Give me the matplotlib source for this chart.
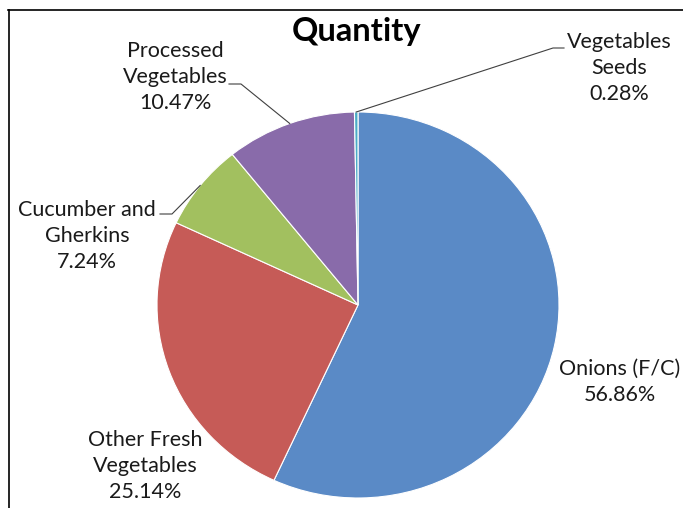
import matplotlib
matplotlib.use("Agg")
import matplotlib.pyplot as plt
import numpy as np

# data
categories = ["Onions (F/C)", "Other Fresh\nVegetables", "Cucumber and\nGherkins",
              "Processed\nVegetables", "Vegetables\nSeeds"]
shares = [56.86, 25.14, 7.24, 10.47, 0.28]
colors = ["#5A8AC6", "#C65B57", "#A2C05F", "#896BAA", "#4BACC6"]

W, H = 683, 508
CX, CY, RX, RY = 358, 305, 201, 193  # pie centre / radii in pixels

plt.rcParams["font.family"] = ["Lato", "DejaVu Sans"]
fig = plt.figure(figsize=(W / 100, H / 100), dpi=100)

# pie axes sized to the (slightly oval) pie of the reference
pax = fig.add_axes([(CX - RX) / W, (H - CY - RY) / H, 2 * RX / W, 2 * RY / H])
wedges, _ = pax.pie(shares, colors=colors, startangle=90, counterclock=False,
                    radius=1, wedgeprops=dict(edgecolor="white", linewidth=0.8))
pax.set_aspect("auto")
pax.set_xlim(-1, 1)
pax.set_ylim(-1, 1)
pax.axis("off")

# overlay in pixel coordinates for text, leaders and frame
ax = fig.add_axes([0, 0, 1, 1], zorder=3)
ax.set_xlim(0, W)
ax.set_ylim(H, 0)
ax.axis("off")
ax.patch.set_alpha(0)

ax.plot([8, W], [10, 10], color="black", lw=1.2)
ax.plot([9, 9], [10, H], color="black", lw=1.2)

ax.text(357, 32, "Quantity", ha="center", va="center", fontsize=23.5,
        fontweight="bold", color="black")


def edge_point(w):
    a = np.deg2rad((w.theta1 + w.theta2) / 2)
    return CX + RX * np.cos(a), CY - RY * np.sin(a)


# label centre, elbow start, elbow end (None = no leader)
label_pos = [
    ((620, 382), None),
    ((145, 466), None),
    ((87, 236), ((160, 214), (172, 214))),
    ((175, 77), ((229, 84), (241, 84))),
    ((619, 68), ((564, 48), (553, 48))),
]

for name, val, w, (pos, elbow) in zip(categories, shares, wedges, label_pos):
    ax.text(pos[0], pos[1], f"{name}\n{val:.2f}%", ha="center", va="center",
            fontsize=15.5, color="#1a1a1a", linespacing=1.4)
    if elbow is not None:
        px, py = edge_point(w)
        ax.plot([elbow[0][0], elbow[1][0], px], [elbow[0][1], elbow[1][1], py],
                color="#404040", lw=0.8)

fig.savefig("out.png", dpi=100)
